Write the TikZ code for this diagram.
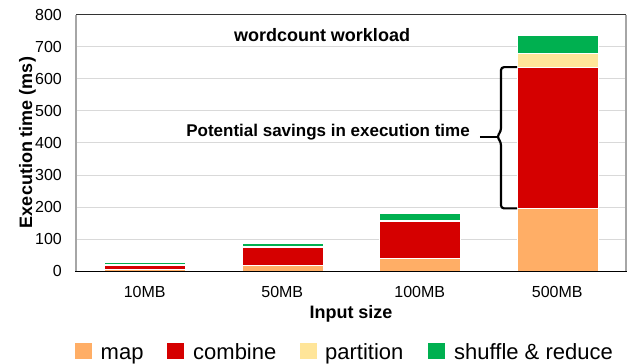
\documentclass[tikz,border=0pt]{standalone}
\usepackage{fontspec}
\setmainfont{Liberation Sans}
\definecolor{mapc}{RGB}{255,174,102}
\definecolor{combc}{RGB}{213,0,0}
\definecolor{partc}{RGB}{255,229,153}
\definecolor{shufc}{RGB}{0,176,80}
\definecolor{gridc}{RGB}{217,217,217}
\definecolor{framec}{RGB}{166,166,166}

% value (ms) -> vertical page position
\newcommand\vy[1]{271.3-0.321*(#1)}

% stacked bar: #1 centre x, #2 map, #3 combine, #4 partition, #5 shuffle & reduce
\newcommand\stackbar[5]{%
  \pgfmathsetmacro\ba{#2}
  \pgfmathsetmacro\bb{#2+#3}
  \pgfmathsetmacro\bc{#2+#3+#4}
  \pgfmathsetmacro\bd{#2+#3+#4+#5}
  \filldraw[segment, fill=mapc]  ({#1-40.5},{\vy{0}})   rectangle ({#1+40.5},{\vy{\ba}});
  \filldraw[segment, fill=combc] ({#1-40.5},{\vy{\ba}}) rectangle ({#1+40.5},{\vy{\bb}});
  \filldraw[segment, fill=partc] ({#1-40.5},{\vy{\bb}}) rectangle ({#1+40.5},{\vy{\bc}});
  \filldraw[segment, fill=shufc] ({#1-40.5},{\vy{\bc}}) rectangle ({#1+40.5},{\vy{\bd}});
}

\begin{document}
\begin{tikzpicture}[x=1pt, y=-1pt,
  segment/.style={draw=white, line width=0.4pt},
  gridline/.style={draw=gridc, line width=1pt},
  ticklabel/.style={font=\fontsize{16}{18}\selectfont, inner sep=0pt},
  axistitle/.style={font=\fontsize{18}{20}\selectfont\bfseries, inner sep=0pt},
  legendbox/.style={fill=#1, minimum size=16.5pt, inner sep=0pt},
  legendtext/.style={font=\fontsize{22}{24}\selectfont, inner sep=0pt, anchor=base west},
  bracket/.style={draw=black, line width=2.2pt, rounded corners=3pt}]

  \useasboundingbox (0,0) rectangle (629,364);
  \fill[white] (0,0) rectangle (629,364);

  % horizontal grid
  \foreach \v in {100,200,...,700}
    \draw[gridline] (76,{\vy{\v}}) -- (626,{\vy{\v}});

  % bars
  \stackbar{144.75}{5}{13}{3}{6}
  \stackbar{282.25}{20}{54}{4}{11}
  \stackbar{419.75}{42}{113}{4}{23}
  \stackbar{557.25}{196}{440}{43}{58}

  % plot frame and axes
  \draw[black!80, line width=0.9pt] (76,{\vy{800}}) -- (626,{\vy{800}});
  \draw[framec, line width=1.5pt] (76,{\vy{800}}) -- (76,{\vy{0}});
  \draw[framec, line width=1.5pt] (626,{\vy{800}}) -- (626,{\vy{0}});
  \draw[black, line width=1.3pt] (75.25,{\vy{0}}) -- (626.75,{\vy{0}});

  % y tick labels
  \foreach \v in {0,100,...,800}
    \node[ticklabel, anchor=east] (yl\v) at (62,{\vy{\v}}) {\v};

  % x tick labels
  \node[ticklabel, anchor=base] (x10)  at (144.75,297) {10MB};
  \node[ticklabel, anchor=base] (x50)  at (282.25,297) {50MB};
  \node[ticklabel, anchor=base] (x100) at (419.75,297) {100MB};
  \node[ticklabel, anchor=base] (x500) at (557.25,297) {500MB};

  % axis titles and chart title
  \node[axistitle, anchor=base] (xtitle) at (351,318) {Input size};
  \node[axistitle, anchor=base, rotate=90] (ytitle) at (32,142.5) {Execution time (ms)};
  \node[axistitle, anchor=base] (title) at (322,41) {wordcount workload};

  % annotation with brace over the combine segment of the largest bar
  \node[font=\fontsize{17}{19}\selectfont\bfseries, inner sep=0pt, anchor=base] (savings)
    at (328,136.7) {Potential savings in execution time};
  \coordinate (braceTop) at (517,{\vy{636}});
  \coordinate (braceBot) at (517,{\vy{196}});
  \coordinate (braceMid) at (501,136.7);
  \draw[bracket] (braceTop) -- (501,{\vy{636}}) -- (501,131) -- (497,136.7)
                 -- (501,142.4) -- (501,{\vy{196}}) -- (braceBot);
  \draw[bracket, rounded corners=0pt] ([xshift=10pt]savings.base east) -- (498,136.7);

  % legend
  \node[legendbox=mapc]  (lgmap)  at (83.5,351)  {};
  \node[legendtext] (lgmapt)  at (100.5,359) {map};
  \node[legendbox=combc] (lgcomb) at (175.5,351) {};
  \node[legendtext] (lgcombt) at (193,359) {combine};
  \node[legendbox=partc] (lgpart) at (308.5,351) {};
  \node[legendtext] (lgpartt) at (325,359) {partition};
  \node[legendbox=shufc] (lgshuf) at (436.5,351) {};
  \node[legendtext] (lgshuft) at (454,359) {shuffle \& reduce};
\end{tikzpicture}
\end{document}
